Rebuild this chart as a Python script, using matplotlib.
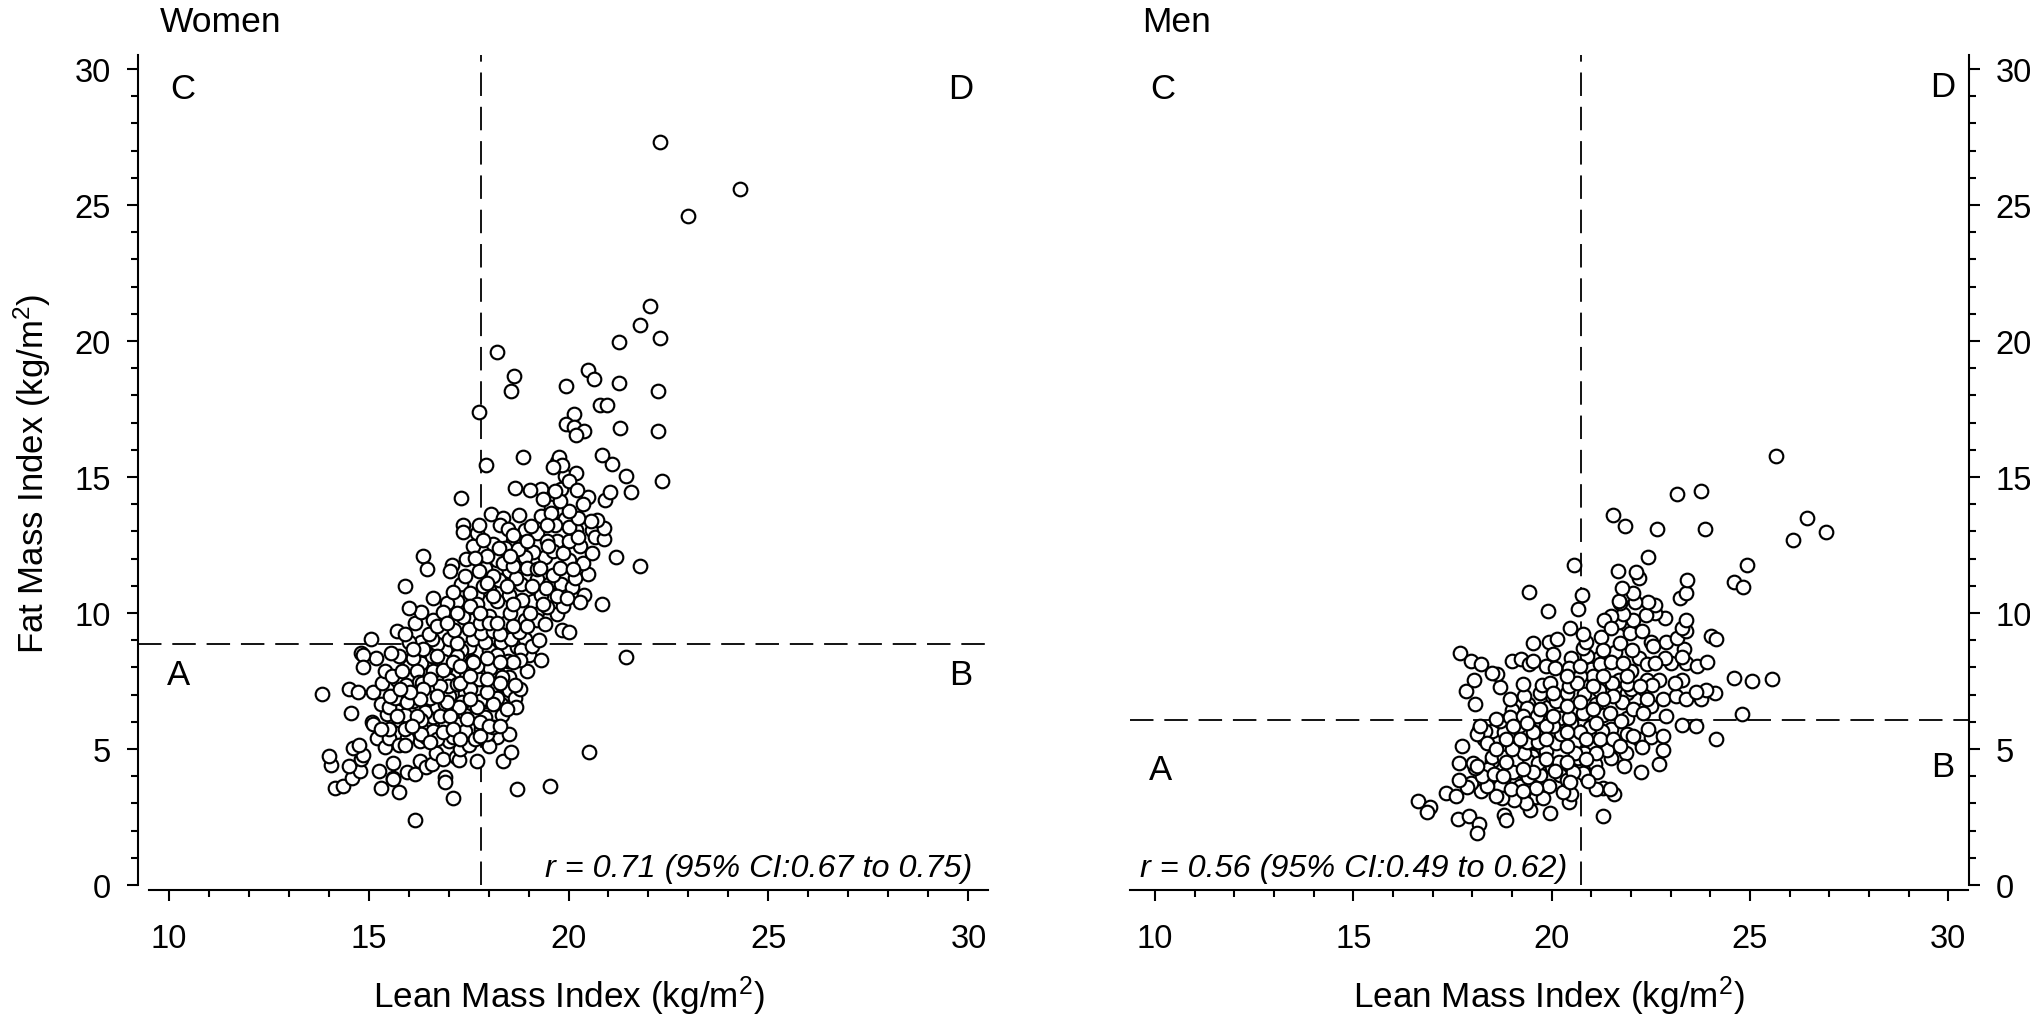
import matplotlib
matplotlib.use("Agg")
import matplotlib.pyplot as plt

plt.rcParams['font.family'] = ['Liberation Sans', 'DejaVu Sans']
plt.rcParams['mathtext.default'] = 'regular'

# (lean mass index, fat mass index)
women_points = [
(16.16,2.32),(17.11,3.15),(18.72,3.48),(19.53,3.59),(20.51,4.83),(21.45,8.33),(17.71,4.50),(18.37,4.52),(18.57,4.85),
(14.17,3.51),(14.37,3.58),(14.58,3.88),(14.79,4.15),(14.51,4.31),(14.06,4.37),(14.0,4.70),(14.81,4.58),(14.87,4.73),
(14.61,4.97),(14.77,5.09),(13.84,6.98),(14.5,7.15),(14.73,7.06),(15.11,7.04),(14.55,6.28),(15.33,7.37),(15.08,5.95),
(15.10,5.88),(15.46,6.23),(15.21,5.34),(15.41,5.03),(15.52,5.36),(15.27,4.15),(15.6,4.43),(15.6,3.88),(15.62,3.85),
(15.31,3.52),(15.77,3.36),(15.97,4.12),(16.17,4.03),(16.29,4.52),(16.44,4.30),(16.58,4.40),(16.92,3.91),(16.92,3.73),
(16.68,4.80),(16.87,4.58),(17.19,4.64),(17.25,4.56),(17.29,4.95),(17.0,5.25),(16.29,5.25),(16.44,5.4),(15.96,5.35),
(15.75,5.09),(15.92,5.09),(16.17,5.77),(15.77,6.01),(15.72,6.35),(16.11,6.48),(16.46,6.57),(16.62,5.93),(16.62,6.11),
(16.4,6.3),(16.7,6.5),(17.0,6.9),(17.4,7.0),(17.6,7.4),(17.1,7.7),(16.9,7.9),(16.6,7.8),(16.3,8.1),(16.0,8.0),(15.7,7.5),
(15.4,7.8),(15.3,6.6),(15.5,6.5),(15.9,6.2),(16.3,6.0),(16.6,5.6),(16.9,5.9),(17.2,6.2),(17.6,6.4),(17.9,6.7),(18.1,6.2),
(18.4,6.9),(18.5,7.6),(18.2,8.0),(18.0,8.6),(17.5,8.7),(17.3,8.6),(16.9,8.6),(16.7,8.8),(16.3,8.9),(16.0,8.9),(15.7,9.3),
(16.6,9.7),(17.0,9.0),(17.6,9.0),(17.9,8.9),(18.3,8.9),(18.7,8.7),(18.9,9.0),(19.0,8.4),(18.8,8.6),(17.0,6.4),(16.6,7.3),
(16.0,7.6),(15.9,5.7),(16.3,5.5),(16.7,5.3),(17.1,5.4),(17.5,5.1),(17.8,5.7),(18.2,5.4),(15.5,5.7),(15.3,5.7),(17.4,6.2),
(17.0,7.5),(17.7,7.1),(18.3,6.6),(18.5,7.1),(18.0,7.4),
(17.8,9.2),(18.1,9.3),(18.4,9.3),(18.9,9.7),(19.2,10.0),(19.1,10.4),(18.5,10.6),(18.0,10.8),(17.7,10.6),(17.4,10.3),
(17.2,10.4),(17.6,9.7),(17.3,11.0),(17.9,11.6),(18.2,11.9),(18.5,11.5),(18.8,11.0),(19.2,11.2),(19.5,11.0),(19.3,10.6),
(19.8,11.0),(20.0,11.9),(19.4,12.0),(19.1,12.2),(18.9,12.0),(18.6,12.6),(19.2,12.9),(19.7,12.6),(19.9,13.4),(19.3,13.5),
(18.9,13.0),(20.3,12.4),(20.6,13.0),(20.2,13.0),(19.3,14.5),(19.8,14.5),(20.5,14.2),(19.9,15.0),(20.2,15.1),(19.7,15.5),
(18.1,12.5),(17.6,12.4),(17.7,12.9),(20.1,10.9),(20.4,10.6),(19.7,9.9),
(16.9,6.6),(17.33,6.66),(17.22,5.87),(16.87,5.56),(17.42,5.62),(17.67,6.13),(17.92,6.11),(17.67,5.31),(17.96,5.22),
(18.02,5.05),(17.97,5.5),(18.12,5.74),(18.5,5.5),(18.33,6.19),(18.22,6.81),(18.1,7.31),(18.65,6.84),(18.69,6.51),
(18.79,7.15),(18.67,7.3),(17.77,7.51),(18.04,7.91),(17.71,8.0),(18.33,7.6),(18.96,7.82),(18.48,8.19),(18.79,8.22),
(19.31,8.22),(19.08,8.74),(19.27,8.95),(18.56,9.01),(18.21,8.4),(17.58,8.19),(17.22,8.35),(17.21,8.86),(16.85,8.19),
(16.85,7.86),(16.58,8.35),(16.1,8.28),(15.77,8.35),(15.57,8.47),(15.19,8.28),(14.81,8.47),(14.85,8.39),(14.85,7.97),
(15.58,7.64),(15.83,7.82),(16.21,7.82),(16.25,7.43),(16.33,7.39),(15.94,7.3),(16.98,7.25),(17.21,7.33),(17.54,7.15),
(15.67,6.81),(15.54,6.88),(16.12,6.72),(16.54,6.84),(17.79,6.72),(17.71,6.48),(18.12,6.6),(17.25,6.48),(16.58,8.98),
(16.5,9.17),(15.9,9.19),(15.06,9.0),(16.17,9.57),(16.31,9.98),(16.02,10.12),(15.9,10.96),(16.36,12.06),(16.46,11.57),
(16.61,10.49),(16.72,9.47),(17.14,9.31),(17.35,9.81),(16.96,10.33),(16.85,10.0),(17.1,10.72),(17.52,9.35),(17.79,9.59),
(18.02,9.84),(18.29,9.17),(18.46,9.62),(18.77,9.25),(18.54,9.96),(18.21,10.39),(18.83,10.42),(19.22,9.68),(19.4,9.53),
(19.47,10.18),(19.85,10.2),(19.83,9.31),(20.01,9.25),(20.29,10.34),(20.85,10.29),(21.8,11.67),(21.18,11.99),(20.5,11.37),
(20.16,11.24),(20.37,11.79),(20.58,12.14),(19.61,11.34),(19.43,10.85),(19.08,10.96),(18.69,11.22),(18.27,11.16),(17.85,10.94),
(17.42,11.3),(17.77,11.51),(18.36,11.77),(18.96,11.61),(17.97,12.04),(17.43,11.92),(17.08,11.7),(17.04,11.49),(17.66,11.98),
(18.42,12.34),(18.73,12.31),(19.6,12.22),(19.46,12.59),(19.48,12.4),(19.87,12.14),(20.01,12.59),(20.23,12.75),(20.67,12.75),
(20.9,12.67),(20.88,13.08),(20.72,13.38),(20.56,13.32),(20.02,13.11),(19.67,13.17),(20.25,13.44),(20.0,13.69),(20.36,13.97),
(19.57,13.85),(19.56,13.63),(19.79,14.06),(19.66,14.45),(19.37,14.14),(19.04,14.46),(18.65,14.54),(20.01,14.79),(20.21,14.48),
(20.92,14.09),(21.04,14.4),(21.57,14.4),(22.35,14.81),(21.43,14.97),(21.08,15.42),(20.83,15.77),(19.75,15.68),(19.83,15.4),
(19.62,15.31),(18.87,15.68),(17.93,15.4),(17.3,14.17),(18.07,13.6),(18.36,13.44),(18.77,13.57),(19.07,13.16),(18.29,13.2),
(18.48,13.02),(18.62,12.81),(18.97,12.61),(17.77,13.17),(17.87,12.65),(17.36,13.2),(17.37,12.93),(18.27,12.34),(19.46,13.2),
(18.62,11.67),(19.21,11.55),(19.29,11.61),(18.54,12.04),(18.12,11.3),(18.46,10.94),(17.96,11.06),(17.54,10.69),(17.71,10.27),
(18.12,10.57),(17.54,10.2),(17.21,9.96),(17.79,9.96),(18.0,9.59),(18.96,9.47),(19.04,9.96),(18.62,10.27),(19.37,10.27),
(19.71,10.57),(19.96,10.51),(19.79,11.61),(20.12,11.55),(18.21,9.59),(18.62,9.47),(16.96,9.59),(16.37,8.62),(16.12,8.62),
(16.71,8.37),(17.12,8.13),(17.62,8.13),(17.29,8.0),(17.96,8.31),(18.62,8.13),(18.29,8.13),(17.29,7.39),(17.54,7.64),
(16.79,7.27),(16.54,7.51),(16.37,7.15),(15.96,6.66),(16.21,6.17),(16.79,6.17),(17.04,6.17),(17.46,6.05),(17.79,5.93),
(18.0,5.8),(17.12,5.68),(16.54,5.19),(16.08,5.8),(15.71,6.17),(17.29,5.31),(17.79,5.44),(18.29,5.8),(18.46,6.41),
(17.54,6.78),(17.96,7.03),(18.29,7.39),(17.96,7.51),(16.96,6.66),(16.71,6.9),(16.29,6.78),(16.04,7.03),(15.79,7.15),
(22.3,27.25),(24.3,25.55),(23.0,24.55),(22.03,21.25),(21.8,20.55),(22.3,20.05),(21.26,19.9),(18.2,19.55),(18.64,18.65),
(18.55,18.1),(20.5,18.9),(20.65,18.55),(19.93,18.3),(21.26,18.4),(22.24,18.1),(17.75,17.35),(20.13,17.25),(20.78,17.6),
(20.97,17.6),(19.93,16.9),(20.13,16.8),(20.38,16.65),(20.2,16.5),(21.3,16.75),(22.24,16.65),
]

men_points = [
(16.64,3.04),(16.93,2.8),(16.87,2.62),(17.33,3.32),(17.59,3.21),(17.63,2.38),(17.91,2.5),(18.17,2.2),(18.11,1.86),
(18.81,2.52),(18.85,2.34),(19.45,2.72),(19.96,2.6),(21.29,2.48),(20.45,2.99),(20.49,3.29),(20.29,3.36),(21.58,3.29),
(19.2,5.0),(19.5,4.7),(19.7,4.0),(19.1,3.7),(18.7,3.6),(18.5,4.5),(18.3,5.3),(18.5,5.6),(18.9,5.4),(19.0,6.4),(19.4,6.6),
(19.7,6.0),(19.9,6.5),(20.2,6.1),(20.2,5.3),(20.6,5.2),(20.5,5.9),(21.0,5.0),(21.4,5.2),(21.5,5.7),(21.9,6.1),(21.3,6.2),
(21.0,6.8),(20.6,6.3),(20.4,7.0),(20.8,7.3),(21.2,7.1),(21.7,7.5),(22.1,6.8),(21.9,7.0),(21.6,8.5),(21.2,8.3),(21.0,7.9),
(20.5,8.3),(21.9,9.5),(21.7,9.6),(22.2,8.3),(22.5,8.9),(22.0,7.8),(22.4,7.5),(22.7,7.5),(23.0,8.1),(23.4,8.1),(20.0,6.9),
(19.7,7.0),(19.3,6.9),(20.2,4.0),(20.4,3.8),(20.0,4.3),(19.4,4.5),(19.6,5.2),(20.7,4.2),(21.1,4.4),(21.5,4.6),(22.2,5.3),
(22.5,5.4),(18.9,4.9),(18.4,4.2),(19.2,3.6),(19.6,3.2),
(21.3,3.5),(21.13,3.48),(21.47,3.48),(21.15,4.09),(20.8,4.06),(20.92,3.78),(20.53,4.09),(20.46,3.72),(19.93,3.6),
(19.79,3.14),(19.6,3.5),(19.35,2.95),(19.05,3.07),(18.74,3.14),(18.61,3.23),(18.23,3.42),(18.36,3.6),(17.97,3.7),
(17.87,3.54),(17.66,3.82),(18.25,3.94),(18.55,4.03),(19.41,3.91),(18.97,3.48),(19.29,3.42),(18.07,4.24),(17.66,4.43),
(18.01,4.42),(18.11,4.33),(17.75,5.07),(18.49,4.64),(18.81,4.64),(19.1,4.49),(19.66,4.42),(20.18,4.46),(20.08,4.13),
(19.86,4.88),(19.3,4.82),(18.99,4.94),(18.8,5.56),(18.17,5.65),(18.32,5.62),(18.11,5.5),(18.36,5.17),(18.7,5.96),
(19.18,5.78),(18.95,6.13),(19.37,5.19),(19.66,5.19),(20.11,5.17),(20.66,4.61),(20.82,4.82),(20.59,4.82),(21.39,4.92),
(21.87,4.8),(21.82,4.31),(22.25,4.09),(22.72,4.39),(22.82,4.92),(22.82,5.41),(22.27,5.01),(21.89,5.5),(21.26,5.62),
(20.97,5.74),(20.25,5.5),(20.04,5.78),(20.45,6.08),(20.8,6.29),(21.13,6.6),(21.77,6.68),(21.75,5.98),(22.42,5.68),
(22.88,6.17),(22.5,6.53),(22.82,6.78),(23.13,6.88),(23.39,6.8),(23.78,6.8),(23.28,5.83),(23.64,5.78),(24.14,5.31),
(24.8,6.23),(25.57,7.51),(25.06,7.45),(24.61,7.55),(24.12,7.02),(23.89,7.12),(23.64,7.05),(23.3,7.49),(23.11,7.39),
(22.54,7.3),(22.0,7.17),(21.89,7.33),(21.53,7.39),(20.82,6.96),(20.1,6.72),(19.39,6.44),(18.95,6.78),(18.71,7.21),
(19.28,7.33),(18.08,6.6),(17.84,7.08),(18.04,7.48),(17.69,8.49),(17.96,8.18),(18.21,8.09),(18.63,7.7),(18.5,7.73),
(18.99,8.18),(19.22,8.25),(19.44,8.06),(19.54,8.18),(19.54,8.86),(19.94,8.89),(20.13,8.98),(20.03,8.45),(19.85,8.0),
(20.08,7.94),(19.75,7.3),(19.96,7.37),(20.45,7.92),(20.45,7.27),(21.05,7.63),(20.71,7.63),(21.22,8.06),(21.49,8.16),
(21.81,8.12),(20.9,8.37),(20.8,8.67),(20.88,8.89),(20.46,9.41),(20.8,9.16),(21.24,9.08),(21.3,8.58),(21.72,8.83),
(22.02,8.59),(21.99,9.2),(22.27,9.28),(22.06,9.71),(21.81,9.92),(21.51,9.83),(21.32,9.69),(21.49,9.41),(22.56,8.73),
(22.88,8.89),(23.34,8.61),(23.28,8.34),(22.86,8.31),(22.4,8.06),(22.61,8.1),(23.67,8.0),(23.91,8.15),(23.15,9.04),
(23.39,9.28),(23.28,9.41),(23.4,9.71),(22.86,9.77),(22.62,9.96),(22.37,9.87),(22.61,10.26),(22.42,10.35),(22.1,10.36),
(22.06,10.69),(21.72,10.32),(21.7,10.39),(21.78,10.87),(23.25,10.51),(23.4,10.69),(23.41,11.18),(22.21,11.24),(22.12,11.46),
(21.68,11.49),(22.44,12.02),(20.57,11.71),(19.44,10.71),(19.9,10.02),(20.67,10.08),(20.77,10.61),(24.61,11.09),(24.83,10.9),
(24.94,11.73),(24.01,9.1),(24.14,9.0),(21.84,13.15),(22.65,13.03),(23.88,13.05),(26.08,12.65),(21.56,13.55),(25.67,15.72),
(26.43,13.45),(26.91,12.93),(23.15,14.32),(23.76,14.45),
(21.05,7.27),(20.63,7.39),(21.55,6.9),(21.3,6.78),(21.47,6.29),(21.13,5.92),(20.71,5.56),(20.38,5.56),(19.87,5.8),
(19.62,6.17),(19.29,6.17),(19.03,5.8),(18.86,5.31),(18.61,4.94),(19.2,5.31),(19.54,5.56),(19.87,5.31),(20.38,5.07),
(20.88,5.31),(21.22,5.31),(21.55,5.31),(22.06,5.43),(21.72,5.07),(21.13,4.82),(20.88,4.58),(20.38,4.46),(19.87,4.58),
(19.54,4.09),(19.03,4.09),(18.78,3.97),(19.29,4.21),(18.86,4.46),(20.04,6.17),(20.71,6.66),(20.38,6.53),(21.05,6.41),
(22.06,6.41),(22.31,6.29),(22.4,6.78),(22.23,7.27),(21.89,7.63),(21.3,7.63),(20.71,8.0),(20.38,7.63),(20.04,7.02),
(19.71,6.41),(19.37,5.92),(18.61,6.05),(18.19,5.8),
]

fmi_reading_offset = 0.05  # the values above were read against a slightly different y calibration
women_cut_lmi, women_cut_fmi = 17.8, 8.87
men_cut_lmi, men_cut_fmi = 20.75, 6.08
x_ticks = [10, 15, 20, 25, 30]
y_ticks = [0, 5, 10, 15, 20, 25, 30]
x_label = "Lean Mass Index (kg/m$^{2}$)"
y_label = "Fat Mass Index (kg/m$^{2}$)"

W, H = 2031, 1020
fig = plt.figure(figsize=(W/100, H/100), dpi=100)

def make_axes(left, right, bottom=891.4, top=56.4):
    return fig.add_axes([left/W, 1-bottom/H, (right-left)/W, (bottom-top)/H])

def style(ax, points, cutx, cuty, side, xlim, title, title_x, rtext, rx, rha, letters):
    ax.set_xlim(*xlim)
    ax.set_ylim(-0.2, 30.5)
    ax.patch.set_alpha(0)
    for s in ax.spines.values():
        s.set_visible(False)
    sp = ax.spines[side]
    sp.set_visible(True)
    sp.set_bounds(0, 30.5)
    sp.set_linewidth(1.5)
    sp.set_position(('outward', 7.6 if side == 'left' else 0.8))
    b = ax.spines['bottom']
    b.set_visible(True)
    b.set_linewidth(1.5)
    ax.yaxis.set_ticks_position(side)
    ax.set_xticks(x_ticks)
    ax.set_yticks(y_ticks)
    ax.set_xticks(range(10, 31), minor=True)
    ax.set_yticks(range(0, 31), minor=True)
    ax.tick_params(which='major', length=8, width=1.5, labelsize=23.5)
    ax.tick_params(which='minor', length=4.8, width=1.5)
    ax.tick_params(axis='x', which='major', pad=15.5)
    ax.tick_params(axis='y', which='major', pad=12 if side == 'left' else 11)
    dash = dict(color='black', lw=1.3, dashes=(13, 6), clip_on=False, zorder=1)
    ax.plot([xlim[0] - (0.27 if side == 'left' else 0), xlim[1] + (0.12 if side == 'left' else 0)], [cuty, cuty], **dash)
    ax.plot([cutx, cutx], [0, 30.5], **dash)
    xs, ys = zip(*points)
    ys = [y + fmi_reading_offset for y in ys]
    ax.scatter(xs, ys, s=96, facecolor='white', edgecolor='black', linewidth=1.55, zorder=3, clip_on=False)
    ax.set_xlabel(x_label, fontsize=25.3, labelpad=14)
    fig.text(title_x/W, 1-23/H, title, fontsize=25.5, ha='left', va='center')
    ax.text(rx, 0.62, rtext, fontsize=23.3, style='italic', ha=rha, va='center', zorder=4)
    for (lx, ly, t) in letters:
        ax.text(lx, ly, t, fontsize=25, ha='center', va='center')

ax1 = make_axes(149, 988)
style(ax1, women_points, women_cut_lmi, women_cut_fmi, 'left', (9.51, 30.49), "Women", 160,
      "r = 0.71 (95% CI:0.67 to 0.75)", 30.1, 'right',
      [(10.36, 29.3, 'C'), (29.8, 29.3, 'D'), (10.26, 7.75, 'A'), (29.8, 7.75, 'B')])
ax1.set_ylabel(y_label, fontsize=25, labelpad=15)

ax2 = make_axes(1130, 1968)
style(ax2, men_points, men_cut_lmi, men_cut_fmi, 'right', (9.37, 30.5), "Men", 1142,
      "r = 0.56 (95% CI:0.49 to 0.62)", 9.62, 'left',
      [(10.2, 29.3, 'C'), (29.87, 29.35, 'D'), (10.15, 4.25, 'A'), (29.85, 4.35, 'B')])

fig.savefig("out.png", dpi=100)
